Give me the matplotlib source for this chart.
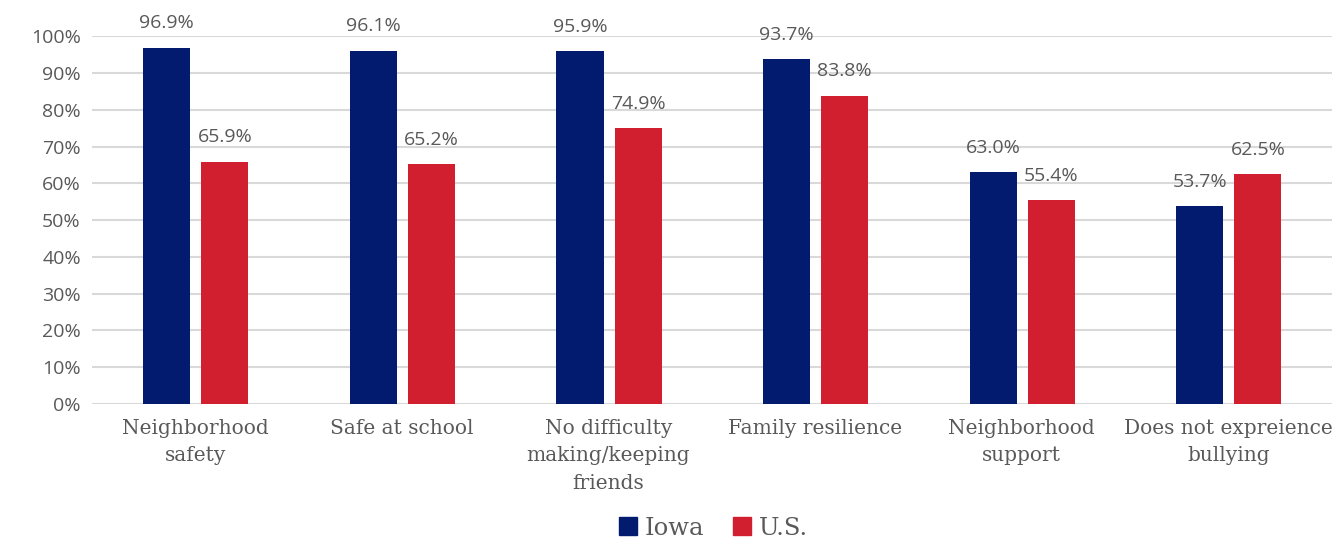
import matplotlib.pyplot as plt
from matplotlib.patches import Patch
import numpy as np

# Data
categories = ['Neighborhood\nsafety', 'Safe at school', 'No difficulty\nmaking/keeping\nfriends',
              'Family resilience', 'Neighborhood\nsupport', 'Does not expreience\nbullying']
iowa = [96.9, 96.1, 95.9, 93.7, 63.0, 53.7]
us = [65.9, 65.2, 74.9, 83.8, 55.4, 62.5]

navy = '#031B6E'
red = '#D11F2F'
text_gray = '#595959'
sans = 'Open Sans'
serif = 'DejaVu Serif'

fig = plt.figure(figsize=(13.33, 5.4), dpi=100)
ax = fig.add_axes([0.069, 0.252, 0.93, 0.681])

x = np.arange(len(categories))
w = 0.228
b1 = ax.bar(x - 0.138, iowa, w, color=navy, label='Iowa', zorder=3)
b2 = ax.bar(x + 0.143, us, w, color=red, label='U.S.', zorder=3)

for bars in (b1, b2):
    for b in bars:
        ax.annotate(f'{b.get_height():.1f}%', (b.get_x() + b.get_width() / 2, b.get_height()),
                    xytext=(0, 11), textcoords='offset points', ha='center', va='bottom',
                    fontsize=14, color=text_gray, family=sans)

ax.set_xlim(-0.5, len(categories) - 0.5)
ax.set_ylim(0, 100)
ax.set_yticks(range(0, 101, 10))
ax.set_yticklabels([f'{v}%' for v in range(0, 101, 10)], family=sans, fontsize=14, color=text_gray)
ax.set_xticks(x)
ax.set_xticklabels(categories, family=serif, fontsize=14.5, color=text_gray, linespacing=1.55)
ax.tick_params(axis='both', length=0)
ax.tick_params(axis='x', pad=11)
ax.tick_params(axis='y', pad=8)

ax.grid(axis='y', color='#D9D9D9', linewidth=1.5, zorder=0)
for s in ax.spines.values():
    s.set_visible(False)

handles = [Patch(color=navy), Patch(color=red)]
fig.legend(handles, ['Iowa', 'U.S.'], loc='lower center', bbox_to_anchor=(0.535, -0.04), ncol=2,
           frameon=False, prop={'family': serif, 'size': 17.5}, labelcolor=text_gray,
           handlelength=0.75, handleheight=0.75, handletextpad=0.3, columnspacing=1.2)

fig.savefig('out.png', dpi=100)
